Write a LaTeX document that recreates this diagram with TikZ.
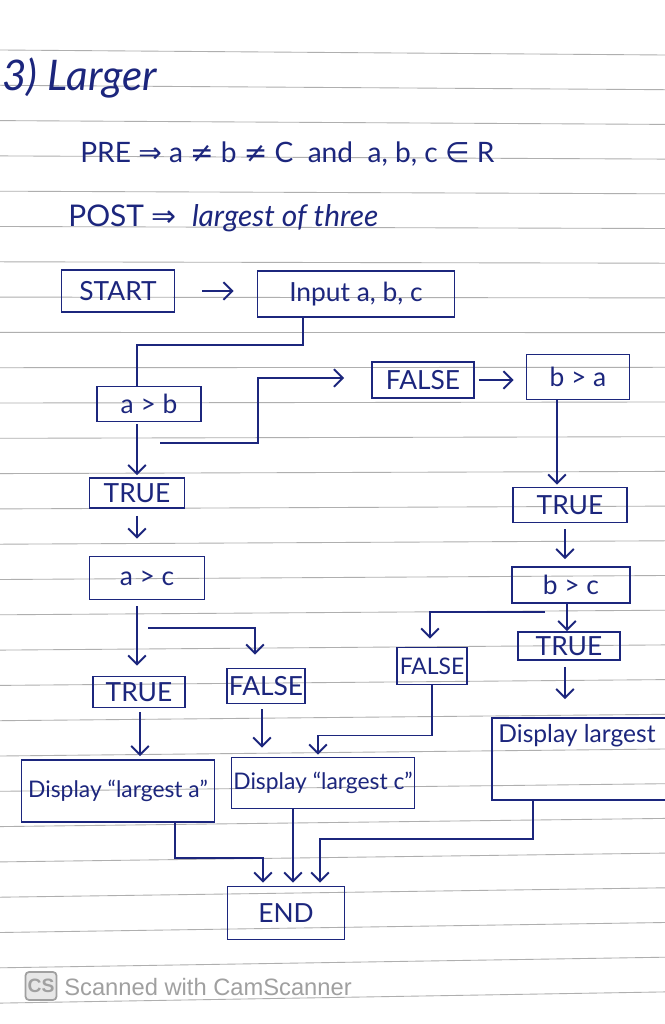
\documentclass[tikz,border=0pt]{standalone}
\usepackage{fontspec}
\setmainfont{Lato}
\newfontfamily\sym{DejaVu Sans}
\newfontfamily\wm{Liberation Sans}
\usetikzlibrary{arrows.meta,calc}
\definecolor{ink}{RGB}{28,38,125}
\definecolor{rulegray}{RGB}{175,175,175}
\definecolor{wmgray}{RGB}{160,160,160}
\begin{document}
\begin{tikzpicture}[x=0.02cm,y=-0.02cm,
  box/.style={draw=ink, line width=1.1pt, text=ink, inner sep=0pt, font=\fontsize{15}{17}\selectfont},
  smallbox/.style={box, font=\fontsize{13}{15}\selectfont},
  wh/.style 2 args={minimum width=#1*0.02cm, minimum height=#2*0.02cm},
  conn/.style={draw=ink, line width=1.1pt},
  arr/.style={conn, -{Straight Barb[length=5pt,width=10pt]}},
  hand/.style={text=ink, inner sep=0pt, anchor=west},
]
\useasboundingbox (0,0) rectangle (665,1024);
\clip (0,0) rectangle (665,1024);
\fill[white] (0,0) rectangle (665,1024);
% ruled paper
\foreach \k in {0,...,28}
  \draw[rulegray, line width=0.5pt] (0,{50+35.3*\k}) -- (665,{55+34.7*\k});

% headings
\node[hand, font=\fontsize{24}{26}\selectfont\itshape] (title) at (2,78) {3) Larger};
\node[hand, font=\fontsize{16}{18}\selectfont] (pre) at (80,154)
  {PRE {\sym ⇒} a {\sym ≠} b {\sym ≠} C \ and \ a, b, c {\sym ∈} R};
\node[hand, font=\fontsize{17}{19}\selectfont] (post) at (68,218)
  {POST {\sym ⇒} \ \textit{largest of three}};

% boxes
\node[box, wh={113}{42}] (start) at (118,291) {START};
\node[box, wh={197}{46}] (input) at (356,294) {Input a, b, c};
\node[box, wh={104}{35}] (ab) at (149,404) {a > b};
\node[box, wh={102}{36}] (false1) at (423,380) {FALSE};
\node[box, wh={103}{45}] (ba) at (578,377) {b > a};
\node[box, wh={95}{30}] (true1) at (137,493) {TRUE};
\node[box, wh={115}{43}] (ac) at (147,578) {a > c};
\node[box, wh={92}{31}] (true2) at (139,692) {TRUE};
\node[box, wh={78}{35}] (false2) at (266,686) {FALSE};
\node[box, wh={114}{35}] (true3) at (570,505) {TRUE};
\node[box, wh={118}{36}] (bc) at (571,585) {b > c};
\node[box, wh={102}{28}] (true4) at (569,646) {TRUE};
\node[box, wh={70}{37}, font=\fontsize{13}{15}\selectfont] (false3) at (432,666) {FALSE};
\node[smallbox, wh={193}{62}] (dispa) at (118,791) {Display ``largest a''};
\node[smallbox, wh={183}{51}] (dispc) at (323,783) {Display ``largest c''};
\node[smallbox, wh={180}{82}, label={[anchor=north west, text=ink, font=\fontsize{14}{16}\selectfont, inner sep=0pt]north west:{\hspace*{0.14cm}\raisebox{-0.5cm}{Display largest}}}] (dispb) at (582,759) {};
\node[box, wh={117}{53}] (end) at (286,913) {END};

% connectors
\draw[arr] ($(start.east)+(27,0)$) -- ($(start.east -| input.west)+(-23,0)$);
\draw[conn] ($(input.south)+(-53,0)$) -- ++(0,27) -| ($(ab.north)+(-12,0)$);
\draw[arr] ($(ab.south)+(-12,2)$) -- ($(true1.north)+(0,-2)$);
\coordinate (abF) at (160,443);
\draw[arr] (abF) -- ++(98,0) |- ($(false1.west)+(-27,-2)$);
\draw[arr] ($(false1.east)+(4,0)$) -- ($(false1.east -| ba.west)+(-12,0)$);
\draw[arr] ($(ba.south)+(-21,0)$) -- ($(true3.north)+(-13,-2)$);
\draw[arr] ($(true1.south)+(0,7)$) -- ($(true1.south |- ac.north)+(0,-17)$);
\draw[arr] ($(ac.south)+(-10,6)$) -- ($(true2.north)+(-2,-10)$);
\coordinate (acF) at (148,628);
\draw[arr] (acF) -| ($(false2.north)+(-11,-13)$);
\draw[arr] ($(true3.south)+(-5,6)$) -- ($(bc.north)+(-6,-7)$);
\draw[arr] ($(bc.south)+(-4,0)$) -- (true4.north -| {$(bc.south)+(-4,0)$});
\coordinate (bcF) at (545,612);
\draw[arr] (bcF) -| ($(false3.north)+(-2,-8)$);
\draw[arr] ($(true2.south)+(1,4)$) -- ($(dispa.north)+(22,-3)$);
\draw[arr] ($(false2.south)+(-4,5)$) -- ($(dispc.north)+(-61,-9)$);
\draw[arr] ($(true4.south)+(-4,6)$) -- ($(dispb.north)+(-17,-18)$);
\draw[arr] (false3.south) -- ++(0,50) -| ($(dispc.north)+(-5,-2)$);
\draw[arr] ($(dispa.south)+(57,0)$) -- ++(0,35) -| ($(end.north)+(-23,-3)$);
\draw[arr] ($(dispc.south)+(-30,0)$) -- ($(end.north)+(7,-3)$);
\draw[arr] ($(dispb.south)+(-49,0)$) -- ++(0,38) -| ($(end.north)+(34,-3)$);

% watermark
\node[draw=wmgray, fill=wmgray!25, rounded corners=2pt, line width=1pt, text=wmgray,
      font=\wm\bfseries\fontsize{11}{12}\selectfont, minimum width=0.62cm, minimum height=0.56cm, inner sep=0pt] (cs) at (41,986) {CS};
\node[anchor=west, text=wmgray, font=\wm\fontsize{13.5}{15}\selectfont, inner sep=0pt] (scan) at (64,987) {Scanned with CamScanner};
\end{tikzpicture}
\end{document}
